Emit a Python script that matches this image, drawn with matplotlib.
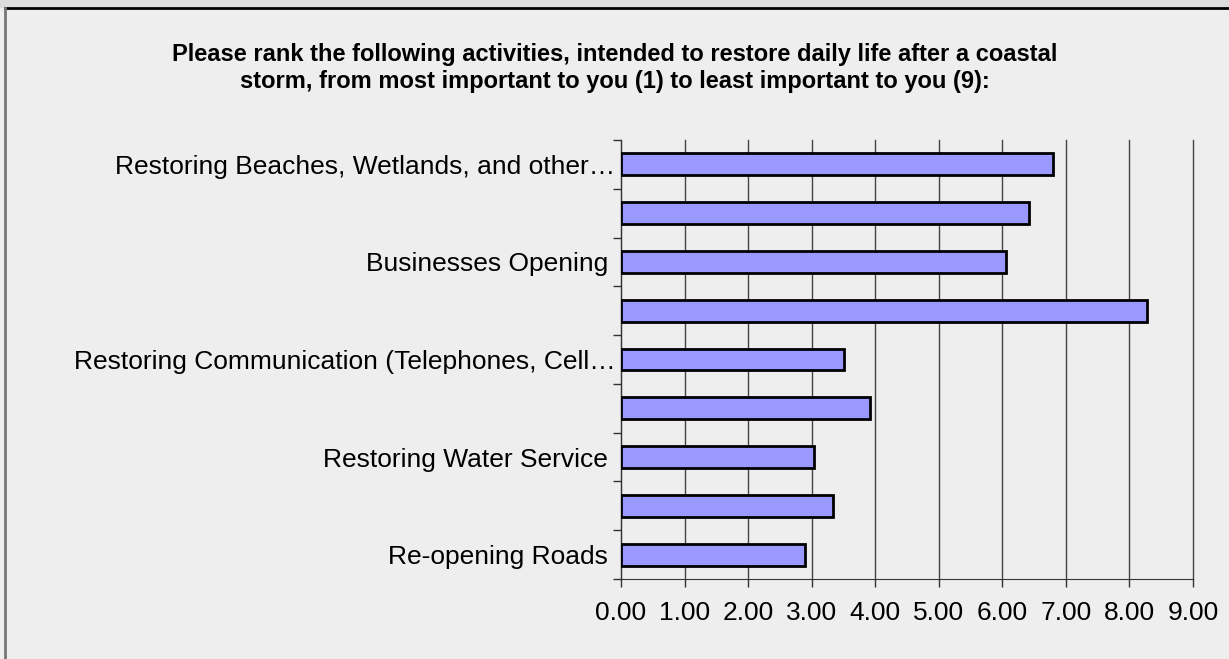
import numpy as np
import matplotlib.pyplot as plt
from matplotlib.lines import Line2D
from matplotlib.patches import Rectangle

# Survey answers, listed top to bottom as drawn (blank = label hidden by the chart)
categories = [
    "Restoring Beaches, Wetlands, and other\u2026",
    "",
    "Businesses Opening ",
    "",
    "Restoring Communication (Telephones, Cell\u2026",
    "",
    "Restoring Water Service ",
    "",
    "Re-opening Roads ",
]
avg_rank = [6.80, 6.42, 6.05, 8.28, 3.51, 3.91, 3.03, 3.34, 2.89]
x_ticks = [0, 1, 2, 3, 4, 5, 6, 7, 8, 9]
x_tick_labels = [f"{v:.2f}" for v in x_ticks]

title = ("Please rank the following activities, intended to restore daily life after a coastal\n"
         "storm, from most important to you (1) to least important to you (9):")

plt.rcParams['font.family'] = ['Liberation Sans', 'DejaVu Sans']

W, H = 1229, 659
fig = plt.figure(figsize=(W / 100, H / 100), dpi=100)
fig.patch.set_facecolor('#eeeeee')

# top strip and frame borders
top_y = 1 - 8 / H
fig.add_artist(Rectangle((0, top_y), 1, 1 - top_y, transform=fig.transFigure,
                         facecolor='#dddddd', edgecolor='none'))
fig.add_artist(Line2D([5 / W, 1], [top_y, top_y], transform=fig.transFigure,
                      color='black', lw=2))
fig.add_artist(Line2D([5 / W, 5 / W], [0, top_y], transform=fig.transFigure,
                      color='#777777', lw=2))

ax = fig.add_axes([621 / W, 1 - 579 / H, (1193 - 621) / W, (579 - 140) / H])
ax.set_facecolor('#eeeeee')

y = np.arange(len(categories))
ax.barh(y, avg_rank, height=0.45, color='#9999ff', edgecolor='black', linewidth=2, zorder=3)

ax.set_xlim(0, 9)
ax.set_ylim(len(categories) - 0.5, -0.5)
ax.set_xticks(x_ticks)
ax.set_xticklabels(x_tick_labels, fontsize=19)
ax.xaxis.grid(True, color='#444444', linewidth=1, zorder=0)
for gl in ax.get_xgridlines():
    gl.set_clip_on(False)

# category labels at bar centres, tick marks at category boundaries
ax.set_yticks(y)
ax.set_yticklabels(categories, fontsize=19)
ax.tick_params(axis='y', length=0, pad=4)
ax.set_yticks(np.arange(-0.5, len(categories)), minor=True)
ax.tick_params(axis='y', which='minor', length=6, width=1, color='#333333')
ax.tick_params(axis='x', length=6, width=1, color='#333333', pad=10)

for side in ['top', 'right']:
    ax.spines[side].set_visible(False)
ax.spines['left'].set_color('#333333')
ax.spines['bottom'].set_color('#333333')

fig.text(0.5, 1 - 68 / H, title, ha='center', va='center', fontsize=17,
         fontweight='bold', linespacing=1.2)

fig.savefig('out.png', dpi=100, facecolor=fig.get_facecolor())
